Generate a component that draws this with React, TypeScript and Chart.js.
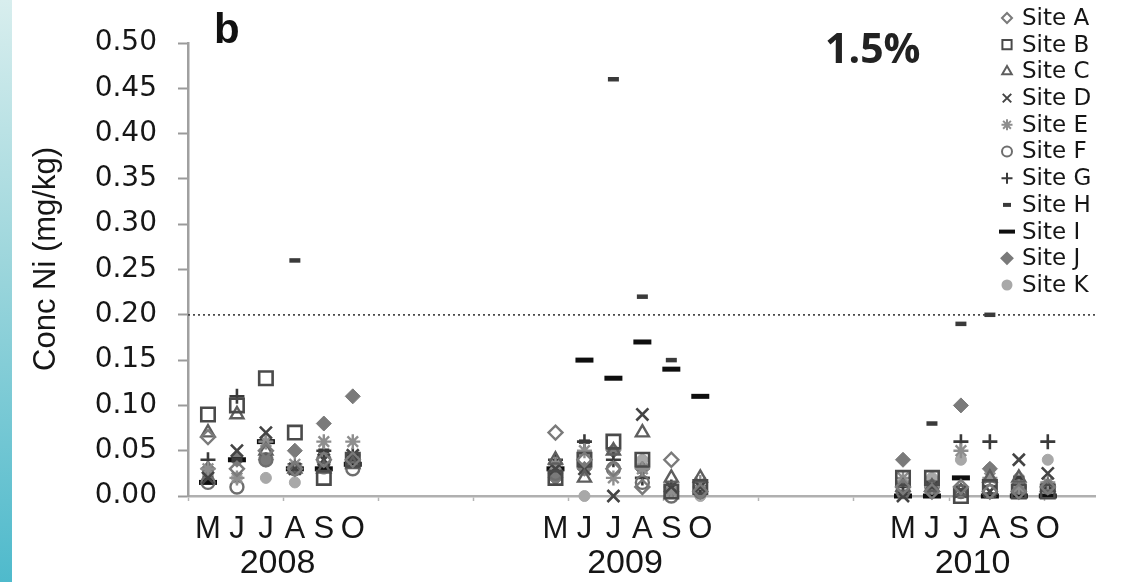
import React, { useEffect, useRef } from 'react';
import { Chart, registerables } from 'chart.js';
import { drawPoint } from 'chart.js/helpers';

Chart.register(...registerables);

// ---- categories / labels ----
const YEARS = ['2008', '2009', '2010'];
const MONTHS = ['M', 'J', 'J', 'A', 'S', 'O'];
const Y_TICKS = [0, 0.05, 0.1, 0.15, 0.2, 0.25, 0.3, 0.35, 0.4, 0.45, 0.5];
const SITE_NAMES = ['Site A', 'Site B', 'Site C', 'Site D', 'Site E', 'Site F', 'Site G', 'Site H', 'Site I', 'Site J', 'Site K'];
const GUIDELINE = 0.2;

// ---- series values: 2008 M..O, 2009 M..O, 2010 M..O ----
const SITE_A = [0.065, 0.03, 0.05, 0.03, 0.04, 0.04, 0.07, 0.04, 0.03, 0.01, 0.04, 0.005, 0.01, 0.005, 0.01, 0.005, 0.005, 0.01];
const SITE_B = [0.09, 0.10, 0.13, 0.07, 0.02, 0.04, 0.02, 0.04, 0.06, 0.04, 0.005, 0.01, 0.02, 0.02, 0.0, 0.01, 0.005, 0.005];
const SITE_C = [0.07, 0.09, 0.05, 0.03, 0.03, 0.035, 0.04, 0.02, 0.05, 0.07, 0.02, 0.02, 0.01, 0.01, 0.005, 0.02, 0.02, 0.01];
const SITE_D = [0.02, 0.05, 0.07, 0.03, 0.04, 0.045, 0.03, 0.03, 0.0, 0.09, 0.01, 0.01, 0.0, 0.01, 0.005, 0.005, 0.04, 0.025];
const SITE_E = [0.03, 0.02, 0.06, 0.035, 0.06, 0.06, 0.035, 0.05, 0.02, 0.03, 0.005, 0.015, 0.02, 0.01, 0.05, 0.02, 0.01, 0.015];
const SITE_F = [0.015, 0.01, 0.04, 0.03, 0.04, 0.03, 0.025, 0.04, 0.03, 0.015, 0.0, 0.005, 0.005, 0.01, 0.005, 0.005, 0.01, 0.01];
const SITE_G = [0.04, 0.11, 0.06, 0.03, 0.05, 0.045, 0.04, 0.06, 0.04, 0.02, 0.01, 0.01, 0.01, 0.01, 0.06, 0.06, 0.01, 0.06];
const SITE_H = [0.02, 0.04, 0.06, 0.26, 0.05, 0.04, 0.03, 0.06, 0.46, 0.22, 0.15, 0.01, 0.0, 0.08, 0.19, 0.20, 0.02, 0.01];
const SITE_I = [0.015, 0.04, 0.06, 0.03, 0.03, 0.035, 0.03, 0.15, 0.13, 0.17, 0.14, 0.11, 0.0, 0.0, 0.02, 0.0, 0.0, 0.0];
const SITE_J = [0.03, 0.04, 0.04, 0.05, 0.08, 0.11, 0.02, 0.03, 0.05, 0.03, 0.005, 0.005, 0.04, 0.005, 0.10, 0.03, 0.005, 0.01];
const SITE_K = [0.025, 0.02, 0.02, 0.015, 0.03, 0.04, 0.03, 0.0, 0.05, 0.04, 0.01, 0.0, 0.015, 0.02, 0.04, 0.03, 0.02, 0.04];

const SERIES = [SITE_A, SITE_B, SITE_C, SITE_D, SITE_E, SITE_F, SITE_G, SITE_H, SITE_I, SITE_J, SITE_K];

// x position in months since May 2008
const MONTH_X = YEARS.flatMap((_, yi) => MONTHS.map((__, mi) => yi * 12 + mi));
const YEAR_X = YEARS.map((_, yi) => yi * 12 + 2.4);
const X_MIN = -0.69;
const X_MAX = 30.63;
const DAY_STEP = 100 / 30.44;
const DAY_TICKS: number[] = [];
for (let v = X_MIN; v <= X_MAX; v += DAY_STEP) DAY_TICKS.push(v);

// marker styles
const STYLES = [
  { ps: 'rectRot', r: 7, bw: 2.4, bc: '#7a7a7a', bg: 'rgba(0,0,0,0)', lr: 5 },
  { ps: 'rect', r: 9.5, bw: 2.6, bc: '#4a4a4a', bg: 'rgba(0,0,0,0)', lr: 6.5 },
  { ps: 'triangle', r: 7.5, bw: 2.4, bc: '#5e5e5e', bg: 'rgba(0,0,0,0)', lr: 5.5 },
  { ps: 'crossRot', r: 8.5, bw: 2.6, bc: '#444444', bg: 'rgba(0,0,0,0)', lr: 6 },
  { ps: 'star', r: 7.5, bw: 2.4, bc: '#8e8e8e', bg: 'rgba(0,0,0,0)', lr: 5.5 },
  { ps: 'circle', r: 6.5, bw: 2.4, bc: '#6e6e6e', bg: 'rgba(0,0,0,0)', lr: 5 },
  { ps: 'cross', r: 7.5, bw: 2.6, bc: '#3a3a3a', bg: 'rgba(0,0,0,0)', lr: 5.5 },
  { ps: 'line', r: 5.5, bw: 4.5, bc: '#3a3a3a', bg: '#3a3a3a', lr: 4 },
  { ps: 'line', r: 9, bw: 5, bc: '#0e0e0e', bg: '#0e0e0e', lr: 8 },
  { ps: 'rectRot', r: 7.5, bw: 1, bc: '#7a7a7a', bg: '#7a7a7a', lr: 5.5 },
  { ps: 'circle', r: 5.5, bw: 1, bc: '#a8a8a8', bg: '#a8a8a8', lr: 4.5 },
];

const TEXT = '#161616';

const bgPlugin = {
  id: 'bgStrip',
  beforeDraw(chart: any) {
    const ctx = chart.ctx as CanvasRenderingContext2D;
    ctx.save();
    ctx.fillStyle = '#ffffff';
    ctx.fillRect(0, 0, chart.width, chart.height);
    const g = ctx.createLinearGradient(0, 0, 0, chart.height);
    g.addColorStop(0, '#d8eeee');
    g.addColorStop(0.45, '#9dd6dc');
    g.addColorStop(1, '#4fbacc');
    ctx.fillStyle = g;
    ctx.fillRect(0, 0, 12, chart.height);
    ctx.restore();
  },
};

const overlayPlugin = {
  id: 'overlay',
  afterDraw(chart: any) {
    const ctx = chart.ctx as CanvasRenderingContext2D;
    ctx.save();
    // panel letter
    ctx.fillStyle = '#111';
    ctx.font = 'bold 42px "Liberation Sans"';
    ctx.textAlign = 'left';
    ctx.textBaseline = 'alphabetic';
    ctx.fillText('b', 214, 43);
    // percentage
    ctx.font = 'bold 41px "Open Sans"';
    ctx.fillStyle = '#222';
    ctx.fillText('1.5%', 825, 63);
    // y axis title
    ctx.save();
    ctx.translate(46, 259);
    ctx.rotate(-Math.PI / 2);
    ctx.font = '31px "Liberation Sans"';
    ctx.fillStyle = TEXT;
    ctx.textAlign = 'center';
    ctx.textBaseline = 'middle';
    ctx.fillText('Conc Ni (mg/kg)', 0, 0);
    ctx.restore();
    // legend
    SITE_NAMES.forEach((name, i) => {
      const st = STYLES[i];
      const y = 18 + i * 26.7;
      ctx.save();
      ctx.strokeStyle = st.bc;
      ctx.fillStyle = st.bg;
      ctx.lineWidth = st.ps === 'line' ? 4 : 2;
      drawPoint(ctx, { pointStyle: st.ps, radius: st.lr, rotation: 0, borderWidth: ctx.lineWidth } as any, 1007, y);
      ctx.restore();
      ctx.fillStyle = TEXT;
      ctx.font = '23px "DejaVu Sans"';
      ctx.textAlign = 'left';
      ctx.textBaseline = 'middle';
      ctx.fillText(name, 1022, y + 1);
    });
    ctx.restore();
  },
};

export default function App() {
  const ref = useRef<HTMLCanvasElement | null>(null);
  useEffect(() => {
    document.body.style.margin = '0';
    const canvas = ref.current;
    if (!canvas) return;
    const datasets: any[] = SERIES.map((vals, i) => {
      const st = STYLES[i];
      return {
        label: SITE_NAMES[i],
        data: vals.map((v, k) => ({ x: MONTH_X[k], y: v })),
        pointStyle: st.ps,
        pointRadius: st.r,
        pointBorderWidth: st.bw,
        pointBorderColor: st.bc,
        pointBackgroundColor: st.bg,
        showLine: false,
        clip: false,
        order: 0,
      };
    });
    datasets.push({
      label: 'guideline',
      type: 'line',
      data: [
        { x: X_MIN, y: GUIDELINE },
        { x: X_MAX, y: GUIDELINE },
      ],
      borderColor: '#4a4a4a',
      borderWidth: 1.8,
      borderDash: [2, 3],
      pointRadius: 0,
      showLine: true,
      fill: false,
      order: 5,
    });
    const chart = new Chart(canvas, {
      type: 'scatter',
      data: { datasets },
      options: {
        responsive: false,
        animation: false,
        devicePixelRatio: 1,
        layout: { padding: { left: 0, right: 32, top: 43, bottom: 0 } },
        plugins: { legend: { display: false }, tooltip: { enabled: false } },
        scales: {
          x: {
            type: 'linear',
            position: 'bottom',
            weight: 0,
            min: X_MIN,
            max: X_MAX,
            afterBuildTicks: (s: any) => {
              s.ticks = DAY_TICKS.map((v) => ({ value: v }));
            },
            ticks: { display: false },
            grid: { drawOnChartArea: false, drawTicks: true, tickLength: 5, tickColor: '#b5b5b5', tickWidth: 1.5 },
            border: { display: true, color: '#b0b0b0', width: 2.5 },
            afterFit: (s: any) => {
              s.height = 8;
            },
          },
          xm: {
            type: 'linear',
            position: 'bottom',
            weight: 1,
            min: X_MIN,
            max: X_MAX,
            afterBuildTicks: (s: any) => {
              s.ticks = MONTH_X.map((v) => ({ value: v }));
            },
            ticks: {
              autoSkip: false,
              maxRotation: 0,
              padding: 7,
              color: TEXT,
              font: { family: 'Liberation Sans', size: 31 },
              callback: (_v: any, i: number) => MONTHS[i % MONTHS.length],
            },
            grid: { display: false, drawTicks: false },
            border: { display: false },
            afterFit: (s: any) => {
              s.height = 36;
            },
          },
          xy: {
            type: 'linear',
            position: 'bottom',
            weight: 2,
            min: X_MIN,
            max: X_MAX,
            afterBuildTicks: (s: any) => {
              s.ticks = YEAR_X.map((v) => ({ value: v }));
            },
            ticks: {
              autoSkip: false,
              maxRotation: 0,
              padding: 3,
              color: TEXT,
              font: { family: 'Liberation Sans', size: 34 },
              callback: (_v: any, i: number) => YEARS[i],
            },
            grid: { display: false, drawTicks: false },
            border: { display: false },
            afterFit: (s: any) => {
              s.height = 42;
            },
          },
          y: {
            type: 'linear',
            min: 0,
            max: 0.5,
            afterBuildTicks: (s: any) => {
              s.ticks = Y_TICKS.map((v) => ({ value: v }));
            },
            ticks: {
              padding: 21,
              color: TEXT,
              font: { family: 'DejaVu Sans', size: 28 },
              callback: (v: any) => Number(v).toFixed(2),
            },
            grid: { drawOnChartArea: false, drawTicks: true, tickLength: 10, tickColor: '#9a9a9a', tickWidth: 2 },
            border: { display: true, color: '#a0a0a0', width: 2.5 },
            afterFit: (s: any) => {
              s.width = 188;
            },
          },
        },
      } as any,
      plugins: [bgPlugin, overlayPlugin],
    });
    return () => chart.destroy();
  }, []);
  return <canvas ref={ref} width={1127} height={582} style={{ display: 'block' }} />;
}
